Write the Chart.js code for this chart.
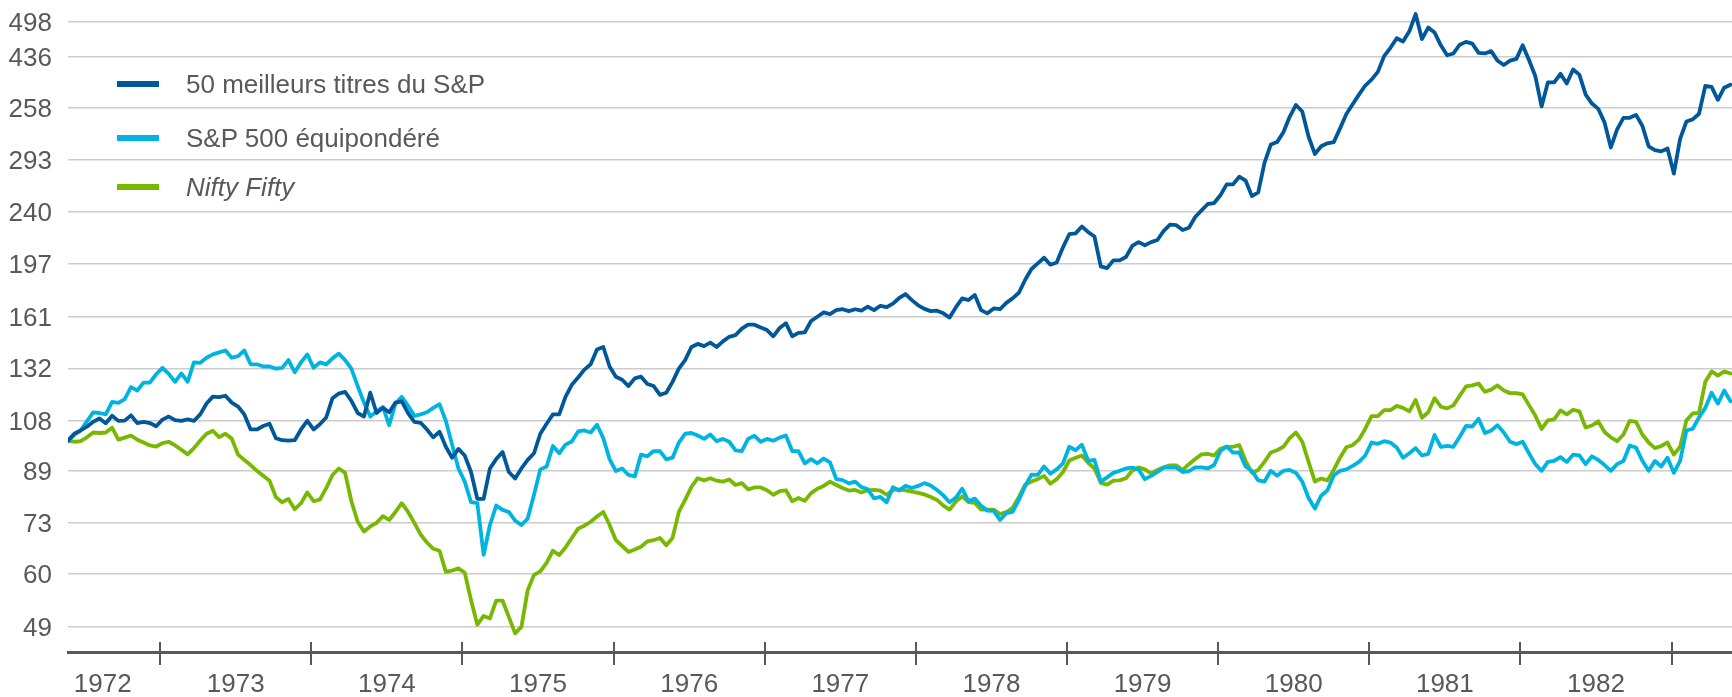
<!DOCTYPE html>
<html>
<head>
<meta charset="utf-8">
<script src="https://cdn.jsdelivr.net/npm/chart.js@4.4.1/dist/chart.umd.min.js"></script>
<style>
  html, body { margin: 0; padding: 0; background: #ffffff; }
  #wrap { position: relative; width: 1732px; height: 697px; overflow: hidden; }
  canvas { display: block; }
  #legend { position: absolute; left: 0; top: 0; }
  #legend .row { position: absolute; left: 117px; height: 30px; display: flex; align-items: center;
    font-family: 'Liberation Sans', Arial, sans-serif; font-size: 26px; color: #595959; white-space: nowrap; }
  #legend .sw { display: inline-block; width: 42px; height: 6px; margin-right: 27px; }
</style>
</head>
<body>
<div id="wrap">
  <canvas id="c" width="1732" height="697"></canvas>
  <div id="legend"></div>
</div>
<script>
// ---- time axis (semi-monthly observations starting late May 1972) ----
const START_YEAR = 1972.39;
const STEP_YEARS = 1 / 24;

// ---- axis labels ----
const yearLabels = ['1972','1973','1974','1975','1976','1977','1978','1979','1980','1981','1982'];
const yearLabelAt = [1972.62,1973.5,1974.5,1975.5,1976.5,1977.5,1978.5,1979.5,1980.5,1981.5,1982.5];
const yearBounds = [1973,1974,1975,1976,1977,1978,1979,1980,1981,1982,1983];
const yTickValues = [49,60,73,89,108,132,161,197,240,293,358,436,498];
const yTickLabels = ['49','60','73','89','108','132','161','197','240','293','258','436','498'];

// ---- series (index level, start = 100) ----
const top50 = [
100,102.7,104,105.5,107.5,108.9,106.9,110,107.9,108,110.2,107,107.5,107,105.7,108.4,109.7,108.2,107.9,108.5,
107.9,110.6,115.3,118.4,118.2,118.8,115.7,114,110.6,104.4,104.4,105.8,106.7,101,100.2,100,100.2,104.4,107.9,104.4,
106.5,109.3,117.7,119.8,120.6,116.5,111.2,109.7,120.2,111.2,113.4,111.5,115.7,116.3,111.1,107.5,107.1,104.4,101.3,103.5,
97.7,93.7,96.9,94.5,88.7,80,80,89.9,93.2,95.8,88.7,86.5,89.9,92.9,95.3,102.7,106.7,110.6,110.6,118.3,
123.9,127.4,131.3,134,141.8,143.2,132.9,127.8,126.3,123.3,127,127.8,124.3,123.3,119.2,120.2,125.3,131.8,136.2,143.2,
144.9,143.7,145.6,143.2,146.3,148.9,149.9,153.6,156,156,154.3,152.8,149.2,154,156.9,149.2,151.2,151.5,158.2,160.8,
163.5,162.4,164.9,165.5,164.3,165.5,164.6,167.1,164.9,167.7,166.8,169.1,172.8,175.4,171.4,168,165.7,164.3,164.6,162.9,
160.3,166.8,172.5,171.4,174.8,164.9,162.9,166,165.5,169.6,172.5,176.3,185.3,193.1,197.3,201.6,196.3,198,209.8,220.6,
221.3,227.2,222.4,218.7,195,193.7,199.6,199.6,202.2,210.9,214,211.5,214,215.8,223.5,228.8,228.4,224.2,226.1,235.7,
241.7,247.7,248.6,256.2,267,267,275,271,255.3,259,290,311,314,326,346,362,353,320.6,300,309,
312.6,314,331,349.6,363,376.6,390,399,411,436.5,450.7,467.5,461.8,480,512.9,466,487,478,455,438,
441,456,461,458,442,441,445,429,422,429,432,455,430,404.6,360,394.7,394.7,408,393,414.8,
406.6,376.6,364,356.6,338.6,307.6,329.8,344.6,344.6,348.5,334.3,309,304.5,303,306.5,278.3,318,339.8,342.6,350,
389.4,388,369.2,386.8,391.3
];
const equalWeight = [
100,102.3,104,107.7,111.5,111.2,110.6,116,115.6,117.3,122.8,121.2,124.9,124.9,129,132.2,129.2,125.3,129.4,125.3,
135,134.8,137.4,139.2,140.3,141.3,137.4,138.3,141.3,134,134,132.9,132.9,131.8,132.2,136.2,130,135,139.2,132.2,
135,134,137.1,139.6,136.2,131.8,123.3,115.7,109.7,111.9,113.8,106.1,115.3,118.3,114.3,110,110.6,111.5,113.4,115,
107.9,98.5,89.9,85.5,79,78.7,64.6,72.4,78,76.7,76.1,73.6,72.4,74.2,81.3,89.6,90.6,98,95.3,98.5,
99.7,103.6,104,103.2,106.3,101,93.2,89,89.9,87.7,87.2,94.8,94.2,96.1,96.1,93.1,93.7,99.3,102.7,103,
102,100.7,102.4,99.8,100.7,99.6,96.4,96.1,100.7,101.9,99.6,100.7,100,101.2,102,96.1,96.1,91.7,93.2,91.7,
93.4,92,86.3,86,84.9,85.5,83.7,83,80.2,80.6,79,83.7,82.6,84.1,83.4,84.1,85,84.2,82.8,81.1,
79,80.4,83.2,79.3,80.1,77.9,76.5,76.4,73.8,75.8,76.1,79.7,84.1,87.8,87.7,90.6,88.1,89.6,91.7,97.7,
96.4,98.5,92.6,92.9,85.5,86.9,88.4,89.1,89.9,90.2,89.6,86.3,87.4,88.7,90.2,90.2,90.2,88.7,89,90.3,
90.3,89.9,91.1,96.1,97.8,95.5,95.6,90.6,89.1,85.9,85.5,89.1,87.4,89.1,89.4,88.4,85.5,80.3,77.1,81,
82.7,87.5,89.1,89.6,90.8,92.2,94.5,99.3,98.8,99.8,99.3,97.4,93.7,95.3,97.2,94.5,95.1,102.2,97.7,98,
97.7,101.5,105.8,105.6,108.8,103,104,106.1,103.2,99.6,98.7,99.6,95.3,91.4,89.1,92.2,92.6,93.9,92.2,94.8,
94.5,91.4,94.2,92.9,91.1,89.1,91.4,92.5,98.2,97.4,92.6,89.1,92.5,90.6,93.7,88.4,92.6,104,104.7,109.3,
113.4,120.2,115.3,121.2,116.3
];
const niftyFifty = [
100,99.6,99.8,101.3,103.2,103,103.2,105.1,100.4,101.2,102,100.4,99.3,98.2,97.8,99.1,99.6,98.2,96.6,94.9,
97.2,100.1,102.7,103.9,101.4,102.7,100.8,94.8,92.9,91.1,89.1,87.4,85.8,80.6,79,80,76.9,78.7,82,79.3,
79.8,83.4,87.7,89.9,88.4,79.3,73.3,70.6,72,73,74.9,73.8,76.1,78.7,76.1,73,69.8,67.7,66.1,65.6,
60.5,60.8,61.3,60.3,54.3,49.4,51.1,50.6,54.2,54.2,50.9,47.8,49,56.4,59.8,60.6,62.6,65.6,64.5,66.4,
68.9,71.4,72.2,73.3,74.8,76.1,72.4,68.3,66.8,65.3,65.9,66.6,68,68.3,68.9,67,68.9,76.1,79.7,83.8,
86.6,85.9,86.6,85.8,85.5,86.2,84.4,85,83,83.6,83.6,82.7,81.3,82.4,82.7,79.3,80.3,79.4,81.8,83.2,
84.1,85.5,84.4,83.4,82.6,82.8,82,82.7,82.8,82.6,81.3,82.8,83,82.7,82.3,81.9,81.4,80.6,79.7,78,
76.8,79.2,80.8,79,78.8,76.8,76.8,76.8,75.5,76.1,77.3,80.6,84.5,85.5,86.3,87.4,84.8,86.3,88.7,92.7,
93.7,94.5,91.9,89.9,85.1,84.5,85.8,85.9,86.6,89.1,90.3,89.6,88.2,89.4,90.3,91,91,89.4,91.4,93.2,
94.9,95.1,94.5,96.9,97.7,97.7,98.3,92.6,88.4,89.4,92.2,95.6,96.4,97.7,101,103.2,99.6,92.2,85.5,86.5,
85.9,89.4,93.7,97.5,98.3,100.4,104.7,109.9,109.9,112.4,112.4,114.3,113.4,111.9,116.9,109.2,111.5,117.7,113.9,113.2,
114.5,118.8,123.1,123.6,124.5,120.6,121.6,123.6,121.2,120,120,119.4,114.6,110.1,104.6,108.1,108.5,112.3,110.6,112.6,
111.9,105.2,106,107.7,103.4,101.3,99.8,102.4,107.9,107.5,102.4,99.3,97.2,98,99.3,94.8,97.7,108.1,111,111.3,
125.3,130.4,128.3,130.4,129.4
];

const periods = top50.map((_, i) => START_YEAR + i * STEP_YEARS);
const toPoints = (vals) => vals.map((v, i) => ({ x: periods[i], y: v }));

const FONT = "'Liberation Sans', Arial, sans-serif";
const TEXT = '#595959';

const yearTicksPlugin = {
  id: 'yearTicks',
  afterDraw(chart) {
    const { ctx, chartArea, scales } = chart;
    const xs = scales.x;
    ctx.save();
    ctx.strokeStyle = TEXT;
    ctx.lineWidth = 2;
    yearBounds.forEach((yr) => {
      const px = Math.round(xs.getPixelForValue(yr));
      ctx.beginPath();
      ctx.moveTo(px, chartArea.bottom - 10);
      ctx.lineTo(px, chartArea.bottom + 13);
      ctx.stroke();
    });
    ctx.restore();
  }
};

const chart = new Chart(document.getElementById('c'), {
  type: 'line',
  data: {
    datasets: [
      { label: '50 meilleurs titres du S&P', data: toPoints(top50), borderColor: '#00579a', borderWidth: 3.8 },
      { label: 'S&P 500 équipondéré', data: toPoints(equalWeight), borderColor: '#00b4e1', borderWidth: 3.8 },
      { label: 'Nifty Fifty', data: toPoints(niftyFifty), borderColor: '#78b800', borderWidth: 3.8, italicLabel: true }
    ]
  },
  options: {
    responsive: false,
    devicePixelRatio: 1,
    animation: false,
    events: [],
    elements: { point: { radius: 0 }, line: { tension: 0, borderJoinStyle: 'round', borderCapStyle: 'round' } },
    layout: { padding: { top: 5, left: 0, right: 0, bottom: 0 } },
    plugins: { legend: { display: false }, tooltip: { enabled: false } },
    scales: {
      x: {
        type: 'linear',
        min: START_YEAR,
        max: 1983.40,
        afterBuildTicks: (s) => { s.ticks = yearLabelAt.map((v) => ({ value: v })); },
        afterFit: (s) => { s.height = 45; s.paddingLeft = 0; s.paddingRight = 0; },
        ticks: {
          autoSkip: false, maxRotation: 0, minRotation: 0, padding: 17,
          color: TEXT, font: { family: FONT, size: 26 },
          callback: (v, i) => yearLabels[i]
        },
        grid: { display: false, drawTicks: false },
        border: { display: true, color: TEXT, width: 3 }
      },
      y: {
        type: 'logarithmic',
        min: 44.5,
        max: 531,
        afterBuildTicks: (s) => { s.ticks = yTickValues.map((v) => ({ value: v })); },
        afterFit: (s) => { s.width = 68; s.paddingTop = 0; s.paddingBottom = 0; },
        ticks: {
          autoSkip: false, padding: 16, labelOffset: 2,
          color: TEXT, font: { family: FONT, size: 26 },
          callback: (v, i) => yTickLabels[i]
        },
        grid: { color: '#cccccc', lineWidth: 1.5, drawTicks: false },
        border: { display: false }
      }
    }
  },
  plugins: [yearTicksPlugin]
});

// ---- HTML legend built from the chart's datasets ----
(function buildLegend() {
  const box = document.getElementById('legend');
  const rowTops = [69, 123, 172];
  chart.data.datasets.forEach((ds, i) => {
    const row = document.createElement('div');
    row.className = 'row';
    row.style.top = rowTops[i] + 'px';
    const sw = document.createElement('span');
    sw.className = 'sw';
    sw.style.background = ds.borderColor;
    const tx = document.createElement('span');
    tx.textContent = ds.label;
    if (ds.italicLabel) tx.style.fontStyle = 'italic';
    row.appendChild(sw);
    row.appendChild(tx);
    box.appendChild(row);
  });
})();
</script>
</body>
</html>
